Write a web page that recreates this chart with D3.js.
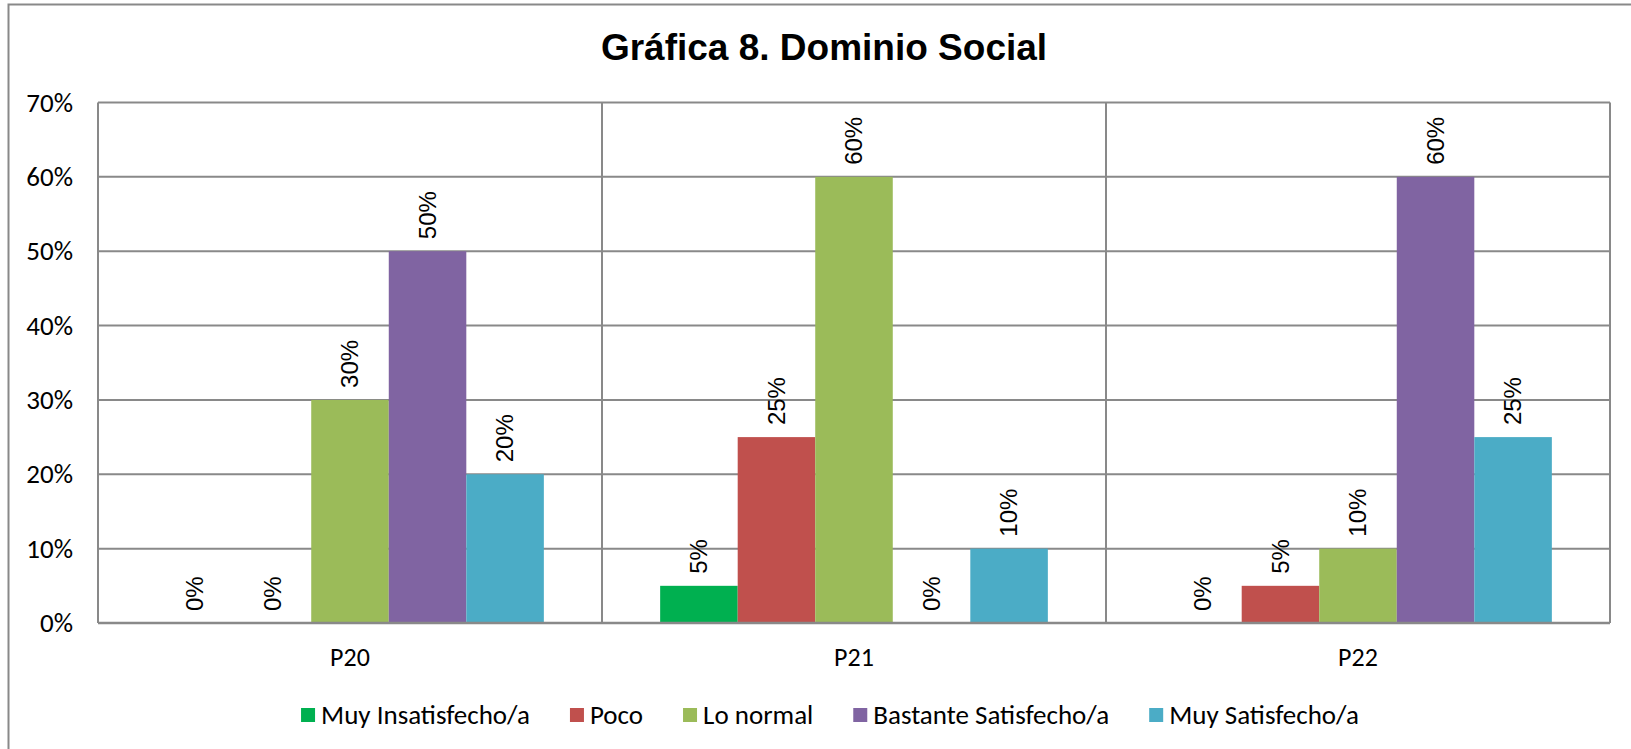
<!DOCTYPE html>
<html lang="es">
<head>
<meta charset="utf-8">
<title>Gráfica 8. Dominio Social</title>
<script src="https://cdn.jsdelivr.net/npm/d3@7"></script>
<style>
    html, body { margin: 0; padding: 0; background: #fff; }
    svg { display: block; }
</style>
</head>
<body>
<svg id="chart"></svg>
<script>
// Data
const categories = ['P20', 'P21', 'P22'];
const seriesNames = ['Muy Insatisfecho/a', 'Poco', 'Lo normal', 'Bastante Satisfecho/a', 'Muy Satisfecho/a'];
const seriesColors = ['#00B050', '#C0504D', '#9BBB59', '#8064A2', '#4BACC6'];

const muyInsatisfecho = [0.00, 0.05, 0.00];
const poco = [0.00, 0.25, 0.05];
const loNormal = [0.30, 0.60, 0.10];
const bastanteSatisfecho = [0.50, 0.00, 0.60];
const muySatisfecho = [0.20, 0.10, 0.25];

const yTicks = [0, 0.1, 0.2, 0.3, 0.4, 0.5, 0.6, 0.7];

const seriesValues = [muyInsatisfecho, poco, loNormal, bastanteSatisfecho, muySatisfecho];

const W = 1631, H = 749;
const plot = {left: 98, right: 1610, top: 102.5, bottom: 623};
const gridColor = '#898989';
const bodyFont = "Carlito, Calibri, Lato, sans-serif";
const labelFont = "'Liberation Sans', Arial, sans-serif";

const svg = d3.select('#chart')
    .attr('width', W)
    .attr('height', H);

// Outer chart border (runs off the right and bottom of the picture)
svg.append('rect')
    .attr('x', 8.5)
    .attr('y', 4.5)
    .attr('width', W + 20)
    .attr('height', H + 20)
    .attr('fill', '#fff')
    .attr('stroke', gridColor)
    .attr('stroke-width', 2);

// Title
svg.append('text')
    .attr('x', 824)
    .attr('y', 60)
    .attr('text-anchor', 'middle')
    .attr('font-family', labelFont)
    .attr('font-weight', 'bold')
    .attr('font-size', '37px')
    .attr('fill', '#000')
    .text('Gráfica 8. Dominio Social');

// Scales
const x0 = d3.scaleBand()
    .domain(categories)
    .range([plot.left, plot.right])
    .padding(0);

// Excel gap width 150% -> 0.75 bar widths on each side
const x1 = d3.scaleBand()
    .domain(seriesNames)
    .range([0, x0.bandwidth()])
    .paddingInner(0)
    .paddingOuter(0.75);

const y = d3.scaleLinear()
    .domain([0, 0.7])
    .range([plot.bottom, plot.top]);

// Horizontal gridlines
svg.append('g')
    .selectAll('line')
    .data(yTicks)
    .join('line')
    .attr('x1', plot.left)
    .attr('x2', plot.right)
    .attr('y1', d => y(d))
    .attr('y2', d => y(d))
    .attr('stroke', gridColor)
    .attr('stroke-width', 2);

// Vertical gridlines at category boundaries
const boundaries = categories.map(c => x0(c)).concat([x0.range()[1]]);
svg.append('g')
    .selectAll('line')
    .data(boundaries)
    .join('line')
    .attr('x1', d => d)
    .attr('x2', d => d)
    .attr('y1', plot.top)
    .attr('y2', plot.bottom)
    .attr('stroke', gridColor)
    .attr('stroke-width', 2);

// Bars
const rows = [];
categories.forEach((cat, ci) => {
    seriesNames.forEach((name, si) => {
        rows.push({cat, name, color: seriesColors[si], value: seriesValues[si][ci]});
    });
});

svg.append('g')
    .selectAll('rect')
    .data(rows)
    .join('rect')
    .attr('x', d => x0(d.cat) + x1(d.name))
    .attr('y', d => y(d.value))
    .attr('width', x1.bandwidth())
    .attr('height', d => y(0) - y(d.value))
    .attr('fill', d => d.color);

// Baseline on top of bars
svg.append('line')
    .attr('x1', plot.left)
    .attr('x2', plot.right)
    .attr('y1', y(0))
    .attr('y2', y(0))
    .attr('stroke', gridColor)
    .attr('stroke-width', 2.5);

// Rotated data labels
svg.append('g')
    .selectAll('text')
    .data(rows)
    .join('text')
    .attr('transform', d => `translate(${x0(d.cat) + x1(d.name) + x1.bandwidth() / 2},${y(d.value) - 12}) rotate(-90)`)
    .attr('text-anchor', 'start')
    .attr('dy', '0.35em')
    .attr('font-family', labelFont)
    .attr('font-size', '24px')
    .attr('fill', '#000')
    .text(d => Math.round(d.value * 100) + '%');

// Y axis labels
const yAxis = d3.axisLeft(y)
    .tickValues(yTicks)
    .tickFormat(d3.format('.0%'))
    .tickSize(0)
    .tickPadding(0);

svg.append('g')
    .attr('transform', 'translate(73,0)')
    .call(yAxis)
    .call(g => g.select('.domain').remove())
    .call(g => g.selectAll('text')
        .attr('font-family', bodyFont)
        .attr('font-size', '27px')
        .attr('fill', '#000'));

// X axis labels
const xAxis = d3.axisBottom(x0)
    .tickSize(0)
    .tickPadding(0);

svg.append('g')
    .attr('transform', 'translate(0,648)')
    .call(xAxis)
    .call(g => g.select('.domain').remove())
    .call(g => g.selectAll('text')
        .attr('font-family', bodyFont)
        .attr('font-size', '26px')
        .attr('fill', '#000'));

// Legend
const legend = svg.append('g');
const items = legend.selectAll('g')
    .data(seriesNames)
    .join('g');

items.append('rect')
    .attr('width', 14)
    .attr('height', 14)
    .attr('y', -7)
    .attr('fill', (d, i) => seriesColors[i]);

items.append('text')
    .attr('x', 20)
    .attr('dy', '0.35em')
    .attr('font-family', bodyFont)
    .attr('font-size', '27px')
    .attr('fill', '#000')
    .text(d => d);

// Lay out legend items in one row, centred
const itemGap = 40;
let cursor = 0;
items.each(function() {
    const g = d3.select(this);
    const w = 20 + g.select('text').node().getComputedTextLength();
    g.attr('transform', `translate(${cursor},0)`);
    cursor += w + itemGap;
});
const legendWidth = cursor - itemGap;
legend.attr('transform', `translate(${830 - legendWidth / 2},715)`);
</script>
</body>
</html>
